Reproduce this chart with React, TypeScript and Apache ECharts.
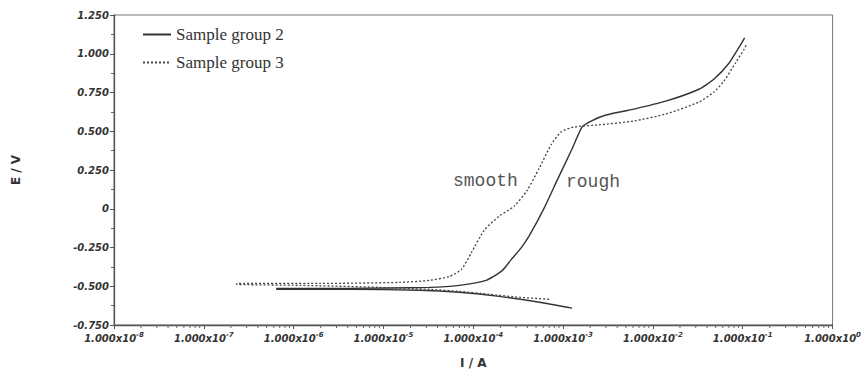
import React, { useEffect, useRef } from "react";
import * as echarts from "echarts";

// Sample group 2 (rough) – solid line, path order: cathodic end -> Ecorr -> anodic end
const currentRough = [
  1.26e-3, 5.41e-4, 1.95e-4, 6.98e-5, 2.51e-5, 4.19e-6, 6.48e-7,
  6.48e-7, 4.19e-6, 3.25e-5, 6.98e-5, 1.39e-4, 2.1e-4, 2.64e-4, 3.41e-4, 4.19e-4,
  6.15e-4, 8.57e-4, 1.26e-3, 1.63e-3, 2.05e-3, 3.01e-3, 6.15e-3, 1.39e-2, 3.25e-2,
  4.76e-2, 6.98e-2, 9.03e-2, 0.105,
];
const potentialRough = [
  -0.641, -0.603, -0.565, -0.539, -0.526, -0.52, -0.52,
  -0.514, -0.514, -0.507, -0.494, -0.462, -0.399, -0.328, -0.252, -0.175,
  0.004, 0.183, 0.387, 0.528, 0.566, 0.605, 0.643, 0.694, 0.771,
  0.835, 0.937, 1.039, 1.103,
];

// Sample group 3 (smooth) – dotted line
const currentSmooth = [
  6.98e-4, 3.25e-4, 1.51e-4, 6.98e-5, 3.25e-5, 9.03e-6, 1.17e-6, 2.33e-7,
  2.33e-7, 1.95e-6, 1.51e-5, 3.25e-5, 5.41e-5, 7.36e-5, 9.51e-5, 1.33e-4, 1.95e-4,
  2.86e-4, 3.98e-4, 5.41e-4, 7.36e-4, 9.51e-4, 1.33e-3, 2.51e-3, 6.15e-3, 1.39e-2,
  3.25e-2, 4.76e-2, 6.15e-2, 8.36e-2, 0.103, 0.111,
];
const potentialSmooth = [
  -0.584, -0.571, -0.552, -0.533, -0.52, -0.507, -0.494, -0.488,
  -0.482, -0.482, -0.475, -0.462, -0.437, -0.392, -0.284, -0.137, -0.047,
  0.017, 0.119, 0.26, 0.413, 0.496, 0.528, 0.541, 0.566, 0.611,
  0.688, 0.752, 0.822, 0.943, 1.026, 1.065,
];

const seriesNames = ["Sample group 2", "Sample group 3"];
const xMinorTicks: number[] = [];
for (let e = -8; e < 0; e++) {
  for (let m = 2; m <= 9; m++) xMinorTicks.push(m * Math.pow(10, e));
}

const labelFont = "'DejaVu Sans', Arial, sans-serif";

export default function App() {
  const ref = useRef<HTMLDivElement>(null);
  useEffect(() => {
    document.body.style.margin = "0";
    const chart = echarts.init(ref.current!, null, { renderer: "svg" });
    const zip = (xs: number[], ys: number[]) => xs.map((x, i) => [x, ys[i]]);
    chart.setOption({
      animation: false,
      backgroundColor: "#fff",
      grid: {
        left: 114,
        right: 30,
        top: 15,
        bottom: 46,
        show: true,
        borderColor: "#777",
        borderWidth: 1,
      },
      legend: {
        data: seriesNames,
        orient: "vertical",
        left: 137,
        top: 21,
        itemWidth: 28,
        itemHeight: 14,
        itemGap: 11,
        itemStyle: { opacity: 0 },
        textStyle: {
          fontFamily: "'Liberation Serif', 'Times New Roman', serif",
          fontSize: 17,
          lineHeight: 17,
          color: "#333",
        },
      },
      xAxis: {
        type: "log",
        logBase: 10,
        min: 1e-8,
        max: 1,
        splitNumber: 8,
        name: "I / A",
        nameLocation: "middle",
        nameGap: 32,
        nameTextStyle: {
          fontFamily: labelFont,
          fontWeight: "bold",
          fontSize: 12,
          color: "#333",
        },
        axisLine: { onZero: false, lineStyle: { color: "#555", width: 1.3 } },
        axisTick: { show: true, length: 4, lineStyle: { color: "#555" } },
        splitLine: { show: false },
        axisLabel: {
          margin: 6,
          formatter: (v: number) => {
            const e = Math.round(Math.log10(v));
            return `{m|1.000x10}{s|${e}}`;
          },
          rich: {
            m: {
              fontFamily: labelFont,
              fontWeight: "bold",
              fontStyle: "italic",
              fontSize: 10,
              color: "#333",
              lineHeight: 14,
            },
            s: {
              fontFamily: labelFont,
              fontWeight: "bold",
              fontStyle: "italic",
              fontSize: 7,
              color: "#333",
              verticalAlign: "top",
              lineHeight: 14,
            },
          },
        },
      },
      yAxis: {
        type: "value",
        min: -0.75,
        max: 1.25,
        interval: 0.25,
        name: "E / V",
        nameLocation: "middle",
        nameGap: 92,
        nameRotate: 90,
        nameTextStyle: {
          fontFamily: labelFont,
          fontWeight: "bold",
          fontSize: 12,
          color: "#333",
        },
        axisLine: { show: true, onZero: false, lineStyle: { color: "#555", width: 1.3 } },
        axisTick: { show: true, length: 4, lineStyle: { color: "#555" } },
        minorTick: { show: true, splitNumber: 2, length: 3, lineStyle: { color: "#666" } },
        splitLine: { show: false },
        axisLabel: {
          margin: 5,
          fontFamily: labelFont,
          fontWeight: "bold",
          fontStyle: "italic",
          fontSize: 10,
          color: "#333",
          formatter: (v: number) => (Math.abs(v) < 1e-9 ? "0" : v.toFixed(3)),
        },
      },
      graphic: [
        {
          type: "text",
          left: 453,
          top: 172,
          style: {
            text: "smooth",
            font: "18px 'Liberation Mono', 'Courier New', monospace",
            fill: "#555",
          },
        },
        {
          type: "text",
          left: 566,
          top: 173,
          style: {
            text: "rough",
            font: "18px 'Liberation Mono', 'Courier New', monospace",
            fill: "#555",
          },
        },
      ],
      series: [
        {
          name: seriesNames[0],
          type: "line",
          data: zip(currentRough, potentialRough),
          symbol: "none",
          smooth: 0.2,
          lineStyle: { color: "#333", width: 1.4, type: "solid" },
          itemStyle: { color: "#333" },
        },
        {
          name: seriesNames[1],
          type: "line",
          data: zip(currentSmooth, potentialSmooth),
          symbol: "none",
          smooth: 0.2,
          lineStyle: { color: "#444", width: 1.3, type: [2, 2] },
          itemStyle: { color: "#444" },
        },
        {
          name: "minorTicks",
          type: "custom",
          silent: true,
          clip: false,
          data: xMinorTicks.map((v) => [v, -0.75]),
          renderItem: (params: any, api: any) => {
            const p = api.coord([api.value(0), api.value(1)]);
            return {
              type: "line",
              shape: { x1: p[0], y1: p[1], x2: p[0], y2: p[1] + 3 },
              style: { stroke: "#666", lineWidth: 1 },
            };
          },
        },
      ],
    });
    return () => chart.dispose();
  }, []);
  return <div ref={ref} style={{ width: 864, height: 374 }} />;
}
